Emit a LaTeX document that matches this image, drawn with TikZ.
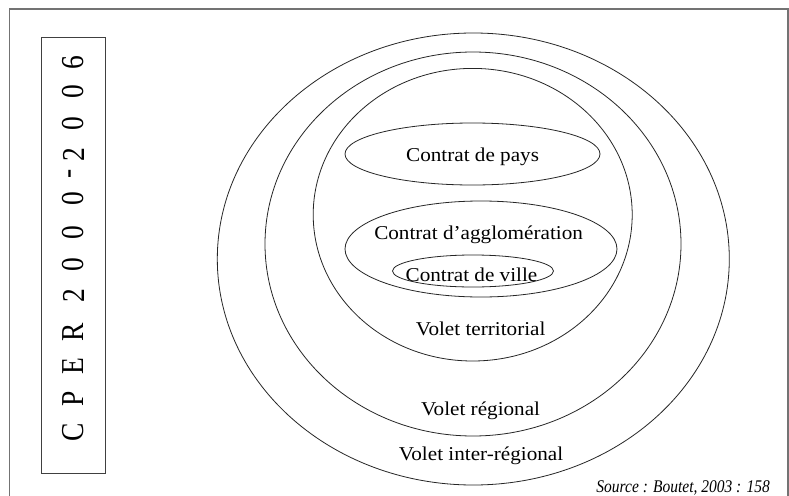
\documentclass[tikz,border=0pt]{standalone}
\usepackage{fontspec}
\setmainfont{Liberation Serif}
\usepackage{graphicx}
\newcommand{\wlbl}[1]{\scalebox{1.08}[1]{#1}}
\begin{document}
\begin{tikzpicture}[x=1pt,y=-1pt,
  ring/.style={draw=black!85,line width=0.8pt},
  lab/.style={inner sep=0pt,anchor=base,font=\fontsize{19.6}{22}\selectfont},
  cper/.style={inner sep=0pt,rotate=90,font=\fontsize{27.5}{30}\selectfont},
  frameline/.style={draw=black!55,line width=1.6pt},
  cperbox/.style={draw=black!75,line width=1pt}]
\useasboundingbox (0,0) rectangle (789,495);
\fill[white] (0,0) rectangle (789,495);
% outer frame
\coordinate (f1) at (9.5,496);
\coordinate (f2) at (9.5,9.3);
\coordinate (f3) at (788,9.3);
\coordinate (f4) at (788,496);
\draw[frameline] (f1) -- (f2) -- (f3) -- (f4);
% CPER box
\coordinate (b1) at (41.7,37.3);
\coordinate (b2) at (105.7,473);
\draw[cperbox] (b1) rectangle (b2);
\foreach \ch/\yy [count=\i] in {C/432.5,P/398.5,E/366,R/332.5,2/296,0/265,0/232.5,0/199,-/173.5,2/155,0/124,0/91.5,6/62.5}
  \node[cper] (cp\i) at (73.5,\yy) {\scalebox{1}[1.16]{\ch}};
% ellipses
\draw[ring] (473.3,259) ellipse [x radius=256pt, y radius=226pt];
\draw[ring] (473,244) ellipse [x radius=208pt, y radius=192pt];
\draw[ring] (472.7,214.7) ellipse [x radius=159.5pt, y radius=146.3pt];
\draw[ring] (472.5,154) ellipse [x radius=127.5pt, y radius=31pt];
\draw[ring] (481,249) ellipse [x radius=136pt, y radius=48pt];
\draw[ring] (473,271) ellipse [x radius=80.5pt, y radius=16pt];
% labels
\node[lab] (pays) at (472.6,161.7) {\wlbl{Contrat de pays}};
\node[lab] (agglo) at (478.6,239) {\wlbl{Contrat d’agglomération}};
\node[lab] (ville) at (471.5,281.7) {\wlbl{Contrat de ville}};
\node[lab] (terr) at (480.7,335) {\wlbl{Volet territorial}};
\node[lab] (reg) at (480.6,415.7) {\wlbl{Volet régional}};
\node[lab] (inter) at (481,460.7) {\wlbl{Volet inter-régional}};
\node[inner sep=0pt,anchor=base east,font=\fontsize{15.5}{18}\selectfont\itshape] (src) at (770,492.5) {\scalebox{1}[1.15]{Source : Boutet, 2003 : 158}};
\end{tikzpicture}
\end{document}
